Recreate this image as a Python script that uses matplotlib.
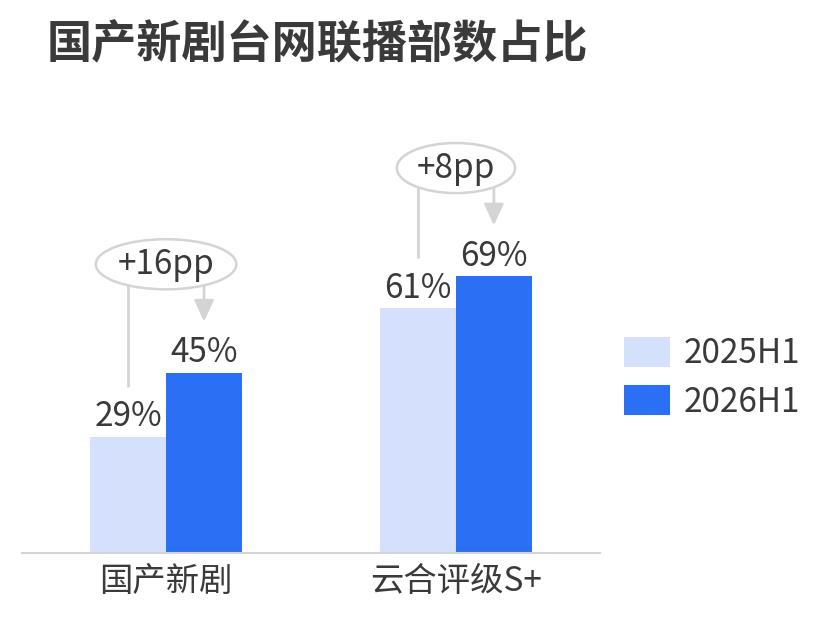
import numpy as np
import matplotlib
matplotlib.use('Agg')
import matplotlib.pyplot as plt
from matplotlib.patches import Ellipse

plt.rcParams['font.family'] = ['Noto Sans CJK SC', 'DejaVu Sans']

# data
categories = ['国产新剧', '云合评级S+']
series = ['2025H1', '2026H1']
v2025 = [29, 61]
v2026 = [45, 69]
diff_labels = ['+16pp', '+8pp']

c_light = '#d5e1fc'
c_dark = '#2b6ff4'
c_text = '#3a3a3a'
c_grey = '#d4d4d4'
fs = 24

fig = plt.figure(figsize=(8.28, 6.26), dpi=100)
ax = fig.add_axes([22 / 828, 73 / 626, 578 / 828, 401 / 626])

x = np.arange(len(categories))
w = 0.262
b1 = ax.bar(x - w / 2, v2025, w, color=c_light, label=series[0], zorder=2)
b2 = ax.bar(x + w / 2, v2026, w, color=c_dark, label=series[1], zorder=2)

for xs, vals in [(x - w / 2, v2025), (x + w / 2, v2026)]:
    for xi, v in zip(xs, vals):
        ax.annotate(f'{v}%', (xi, v), xytext=(0, 2), textcoords='offset points',
                    ha='center', va='bottom', fontsize=fs, color=c_text)

# change callouts
for i, lab in enumerate(diff_labels):
    lo, hi = v2025[i], v2026[i]
    cy = hi + 27
    ew = 0.1 + 0.077 * len(lab)
    ax.plot([x[i] - w / 2, x[i] - w / 2], [cy, lo + 12.5], color=c_grey, lw=2,
            zorder=3, clip_on=False, solid_capstyle='butt')
    ax.annotate('', xy=(x[i] + w / 2, hi + 12.7), xytext=(x[i] + w / 2, cy),
                arrowprops=dict(arrowstyle='-|>,head_width=0.3,head_length=0.65',
                                color=c_grey, lw=2, mutation_scale=20,
                                shrinkA=0, shrinkB=0),
                zorder=3, annotation_clip=False)
    ax.add_patch(Ellipse((x[i], cy), ew, 12.5, facecolor='white', edgecolor=c_grey,
                         lw=1.8, zorder=4, clip_on=False))
    ax.text(x[i], cy, lab, ha='center', va='center', fontsize=fs, color=c_text,
            zorder=5)

ax.set_xlim(-0.497, 1.497)
ax.set_ylim(0, 100)
ax.set_xticks(x)
ax.set_xticklabels(categories, fontsize=fs, color=c_text)
ax.tick_params(axis='x', length=0, pad=8)
ax.set_yticks([])
for s in ['top', 'right', 'left']:
    ax.spines[s].set_visible(False)
ax.spines['bottom'].set_color(c_grey)
ax.spines['bottom'].set_linewidth(1.5)

fig.legend(handles=[b1, b2], loc='center left', bbox_to_anchor=(624 / 828, 1 - 378 / 626),
           bbox_transform=fig.transFigure, frameon=False, fontsize=fs,
           handlelength=1.38, handleheight=1.0, handletextpad=0.4,
           labelspacing=0.4, borderpad=0, borderaxespad=0, labelcolor=c_text)

fig.text(47 / 828, 1 - 45 / 626, '国产新剧台网联播部数占比', fontsize=32.5, fontweight='bold',
         color=c_text, ha='left', va='center')

fig.savefig('out.png', dpi=100)
